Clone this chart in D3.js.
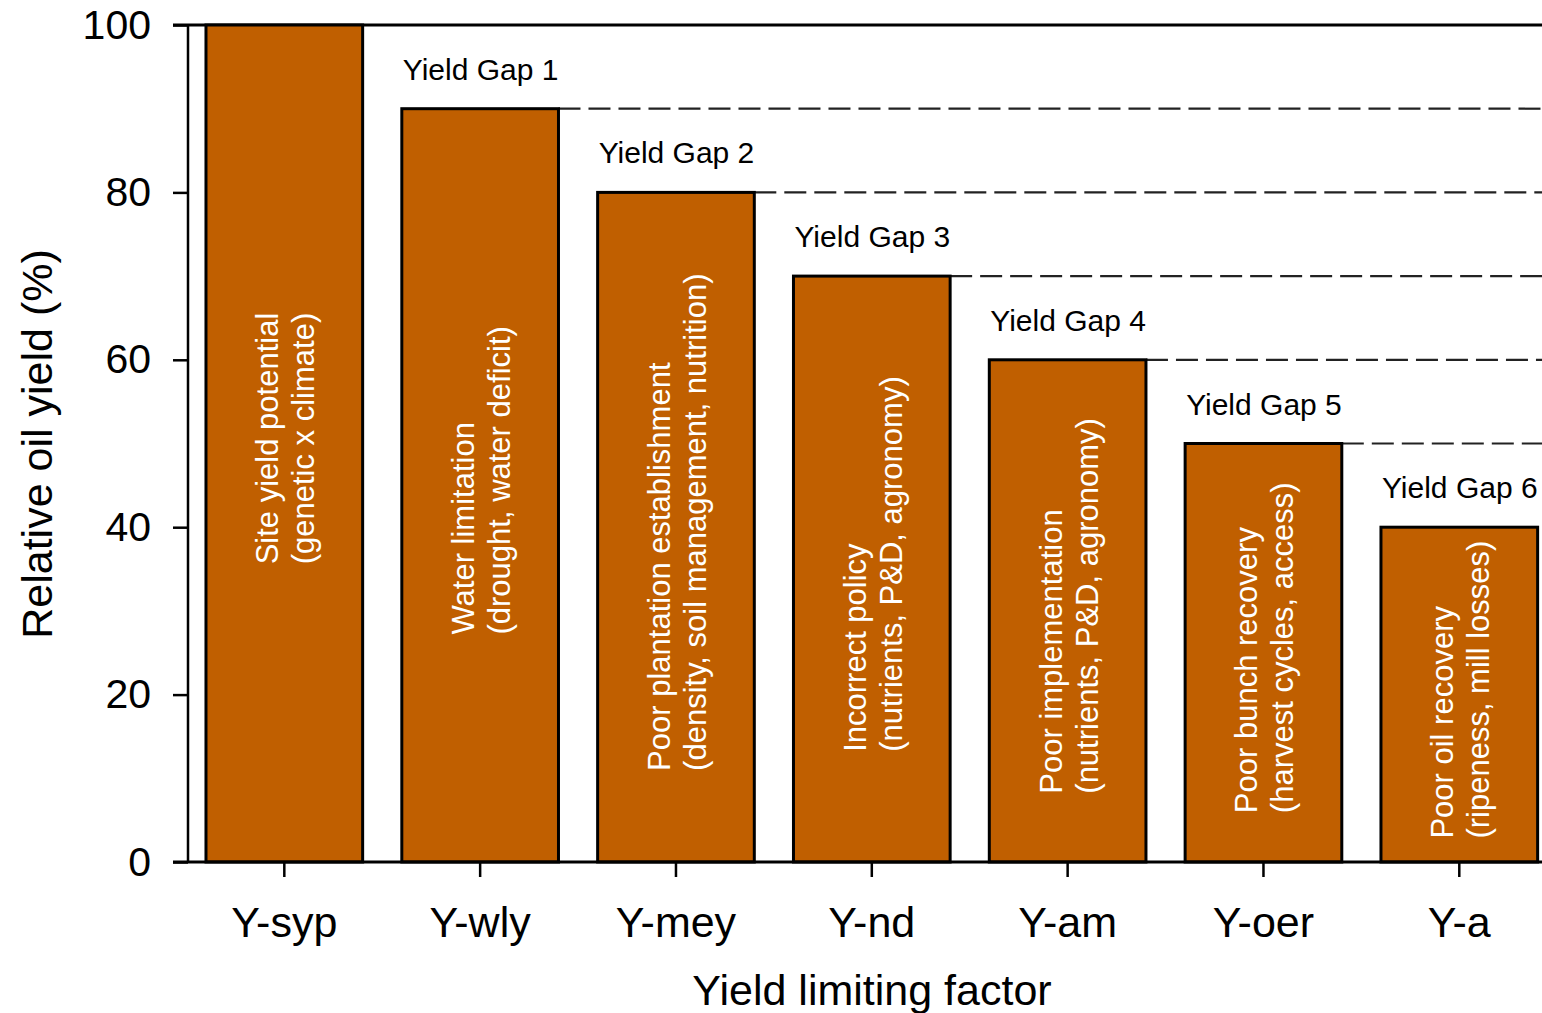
<!DOCTYPE html>
<html>
<head>
<meta charset="utf-8">
<script src="https://cdn.jsdelivr.net/npm/d3@7"></script>
<style>
  body { margin: 0; background: #fff; }
  svg { display: block; font-family: "Liberation Sans", Arial, sans-serif; }
</style>
</head>
<body>
<div id="chart"></div>
<script>
////////////////// Data ////////////////////
var categories = ["Y-syp", "Y-wly", "Y-mey", "Y-nd", "Y-am", "Y-oer", "Y-a"];
var values = [100, 90, 80, 70, 60, 50, 40];
var barLine1 = ["Site yield potential", "Water limitation", "Poor plantation establishment",
  "Incorrect policy", "Poor implementation", "Poor bunch recovery", "Poor oil recovery"];
var barLine2 = ["(genetic x climate)", "(drought, water deficit)", "(density, soil management, nutrition)",
  "(nutrients, P&D, agronomy)", "(nutrients, P&D, agronomy)", "(harvest cycles, access)", "(ripeness, mill losses)"];
var gapLabels = ["Yield Gap 1", "Yield Gap 2", "Yield Gap 3", "Yield Gap 4", "Yield Gap 5", "Yield Gap 6"];
var yTicks = [0, 20, 40, 60, 80, 100];

////////////////// Chart Parameters ////////////////////
var svgWidth = 1542;
var svgHeight = 1013;
var axisX = 188;
var barFill = "#c05f00";

var svg = d3.select("#chart").append("svg")
  .attr("width", svgWidth)
  .attr("height", svgHeight);

////////// Scales //////////
var step = 195.83;
var xScale = d3.scaleBand()
  .domain(categories)
  .range([186.4, 186.4 + step * 7])
  .paddingInner(0.2)
  .paddingOuter(0.1);

var yScale = d3.scaleLinear()
  .domain([0, 100])
  .range([862, 25]);

var data = categories.map(function (c, i) {
  return { cat: c, value: values[i], l1: barLine1[i], l2: barLine2[i], gap: i > 0 ? gapLabels[i - 1] : null };
});

////////// Dashed reference lines //////////
svg.selectAll("line.ref")
  .data(data.slice(1, 6))
  .enter()
  .append("line")
  .attr("class", "ref")
  .attr("x1", d => xScale(d.cat) + xScale.bandwidth())
  .attr("x2", svgWidth)
  .attr("y1", d => yScale(d.value))
  .attr("y2", d => yScale(d.value))
  .attr("stroke", "#222")
  .attr("stroke-width", 2.2)
  .attr("stroke-dasharray", "22,8");

// solid line at 100
svg.append("line")
  .attr("x1", 173).attr("x2", svgWidth)
  .attr("y1", yScale(100)).attr("y2", yScale(100))
  .attr("stroke", "#000").attr("stroke-width", 3);

////////// Bars //////////
svg.selectAll("rect.bar")
  .data(data)
  .enter()
  .append("rect")
  .attr("class", "bar")
  .attr("x", d => xScale(d.cat))
  .attr("y", d => yScale(d.value))
  .attr("width", xScale.bandwidth())
  .attr("height", d => yScale(0) - yScale(d.value))
  .attr("fill", barFill)
  .attr("stroke", "#000")
  .attr("stroke-width", 3);

////////// Axes //////////
var yAxis = d3.axisLeft(yScale).tickValues(yTicks).tickSize(15).tickPadding(22);
var gy = svg.append("g")
  .attr("transform", `translate(${axisX}, 0)`)
  .call(yAxis);
gy.select(".domain").remove();
gy.append("line")
  .attr("x1", 0).attr("x2", 0)
  .attr("y1", yScale(100)).attr("y2", yScale(0))
  .attr("stroke", "#000").attr("stroke-width", 2.5);
gy.selectAll(".tick line").attr("stroke", "#000").attr("stroke-width", 2.5);
gy.selectAll(".tick text")
  .attr("font-size", 41)
  .attr("fill", "#000")
  .attr("font-family", "Liberation Sans, Arial, sans-serif");

var xAxis = d3.axisBottom(xScale).tickSize(15).tickPadding(29);
var gx = svg.append("g")
  .attr("transform", `translate(0, ${yScale(0)})`)
  .call(xAxis);
gx.select(".domain").remove();
gx.append("line")
  .attr("x1", 173).attr("x2", svgWidth)
  .attr("y1", 0).attr("y2", 0)
  .attr("stroke", "#000").attr("stroke-width", 3);
gx.selectAll(".tick line").attr("stroke", "#000").attr("stroke-width", 2.5);
gx.selectAll(".tick text")
  .attr("font-size", 43)
  .attr("fill", "#000")
  .attr("font-family", "Liberation Sans, Arial, sans-serif");

////////// Axis titles //////////
svg.append("text")
  .attr("x", 872)
  .attr("y", 1005)
  .attr("text-anchor", "middle")
  .attr("font-size", 43)
  .text("Yield limiting factor");

svg.append("text")
  .attr("transform", "translate(52, 444) rotate(-90)")
  .attr("text-anchor", "middle")
  .attr("font-size", 43)
  .text("Relative oil yield (%)");

////////// Yield gap labels //////////
svg.selectAll("text.gap")
  .data(data.filter(d => d.gap))
  .enter()
  .append("text")
  .attr("class", "gap")
  .attr("x", d => xScale(d.cat) + 1)
  .attr("y", d => yScale(d.value) - 29)
  .attr("font-size", 30)
  .attr("fill", "#000")
  .text(d => d.gap);

////////// Bar inner text (rotated) //////////
var inner = svg.selectAll("g.inner")
  .data(data)
  .enter()
  .append("g")
  .attr("class", "inner");

inner.each(function (d) {
  var g = d3.select(this);
  var cx = xScale(d.cat) + xScale.bandwidth() / 2;
  var t1 = g.append("text").attr("font-size", 31).attr("fill", "#fff").text(d.l1);
  var t2 = g.append("text").attr("font-size", 31).attr("fill", "#fff").text(d.l2);
  var maxLen = Math.max(t1.node().getComputedTextLength(), t2.node().getComputedTextLength());
  var mid = (yScale(d.value) + yScale(0)) / 2 - 5;
  var start = mid + maxLen / 2;
  t1.attr("transform", `translate(${cx - 6}, ${start}) rotate(-90)`);
  t2.attr("transform", `translate(${cx + 30}, ${start}) rotate(-90)`);
});
</script>
</body>
</html>
